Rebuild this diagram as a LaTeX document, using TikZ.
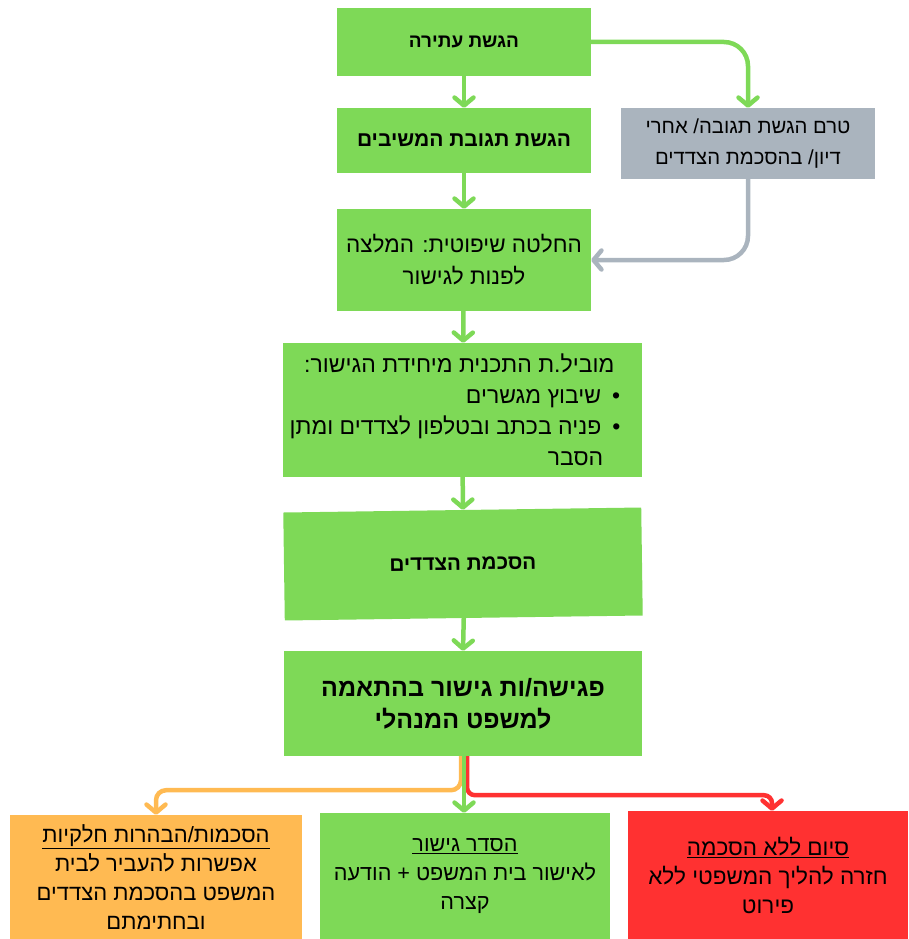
\documentclass[tikz,border=0pt]{standalone}
\usepackage{fontspec}
\setmainfont{Liberation Sans}[Script=Hebrew]
\usetikzlibrary{arrows.meta,positioning}
\TeXXeTstate=1
\definecolor{flowgreen}{HTML}{7ED957}
\definecolor{flowgray}{HTML}{AAB4BE}
\definecolor{floworange}{HTML}{FFBA52}
\definecolor{flowred}{HTML}{FF3131}
\newcommand{\heb}[1]{\beginR #1\endR}
\newcommand{\bul}{\textbullet\hspace*{11pt}}
\newcommand{\pad}{\hspace*{15pt}}

\begin{document}
\begin{tikzpicture}[x=1pt,y=-1pt,
  box/.style={rectangle,fill=flowgreen,inner sep=0pt,align=center,
    font=\fontsize{20}{31}\selectfont},
  flow/.style={line width=4.5pt,rounded corners=24pt,
    -{Straight Barb[length=8pt,width=19pt,line cap=round,line join=round]}}]
  \useasboundingbox (0,0) rectangle (908,939);

  % main column
  \node[box,minimum width=254pt,minimum height=68pt,font=\fontsize{19}{30}\selectfont\bfseries]
    (petition) at (464,42) {\heb{הגשת עתירה}};
  \node[box,minimum width=254pt,minimum height=65pt,font=\fontsize{21}{30}\selectfont\bfseries]
    (response) at (464,140.5) {\heb{הגשת תגובת המשיבים}};
  \node[box,fill=flowgray,minimum width=254pt,minimum height=71pt,font=\fontsize{20.3}{31}\selectfont]
    (early) at (748,143.5) {\heb{טרם הגשת תגובה/ אחרי}\\ \heb{דיון/ בהסכמת הצדדים}};
  \node[box,minimum width=254pt,minimum height=102pt,font=\fontsize{22.5}{32}\selectfont]
    (decision) at (464,260) {\heb{החלטה שיפוטית: המלצה}\\ \heb{לפנות לגישור}};
  \node[box,minimum width=359pt,minimum height=134pt,align=right,font=\fontsize{23}{31}\selectfont]
    (mobil) at (462.5,410) {\heb{\pad\hspace*{6pt}מוביל.ת התכנית מיחידת הגישור:}\\
      \heb{\pad\bul שיבוץ מגשרים}\\
      \heb{\pad\bul פניה בכתב ובטלפון לצדדים ומתן}\\
      \heb{\pad\hspace*{17pt}הסבר}};
  \node[box,minimum width=358pt,minimum height=108pt,rotate=0.8,font=\fontsize{20.7}{30}\selectfont\bfseries]
    (agree) at (463,564) {\heb{הסכמת הצדדים}};
  \node[box,minimum width=358pt,minimum height=105pt,font=\fontsize{25}{32}\selectfont\bfseries]
    (meeting) at (463,703.5) {\heb{פגישה/ות גישור בהתאמה}\\ \heb{למשפט המנהלי}};

  % outcomes
  \node[box,fill=floworange,minimum width=292pt,minimum height=124pt,font=\fontsize{22}{29}\selectfont]
    (partial) at (156,877) {\underline{\heb{הסכמות/הבהרות חלקיות}}\\ \heb{אפשרות להעביר לבית}\\
      \heb{המשפט בהסכמת הצדדים}\\ \heb{ובחתימתם}};
  \node[box,minimum width=290pt,minimum height=126pt,font=\fontsize{21.6}{29}\selectfont]
    (settle) at (465,876) {\underline{\heb{הסדר גישור}}\\ \heb{לאישור בית המשפט + הודעה}\\ \heb{קצרה}};
  \node[box,fill=flowred,minimum width=280pt,minimum height=128pt,font=\fontsize{22.5}{29}\selectfont]
    (noagree) at (768,875) {\underline{\heb{סיום ללא הסכמה}}\\ \heb{חזרה להליך המשפטי ללא}\\ \heb{פירוט}};

  % arrows
  \draw[flow,flowgreen] (petition) -- (response);
  \draw[flow,flowgreen] (response) -- (decision);
  \draw[flow,flowgreen] (decision) -- (mobil);
  \draw[flow,flowgreen] (mobil) -- (agree);
  \draw[flow,flowgreen] (agree.south) -- (meeting.north);
  \draw[flow,flowgreen] (petition.east) -| (early.north);
  \draw[flow,flowgray] (early.south) |- (decision.east);
  \draw[flow,floworange,rounded corners=10pt] ([xshift=-2pt]meeting.south) -- ++(0,34) -| (partial.north);
  \draw[flow,flowred,rounded corners=8pt] ([xshift=4pt]meeting.south) -- ++(0,39) -| ([xshift=4pt]noagree.north);
  \draw[flow,flowgreen] ([xshift=1pt]meeting.south) -- ([xshift=-1pt]settle.north);
\end{tikzpicture}
\end{document}
